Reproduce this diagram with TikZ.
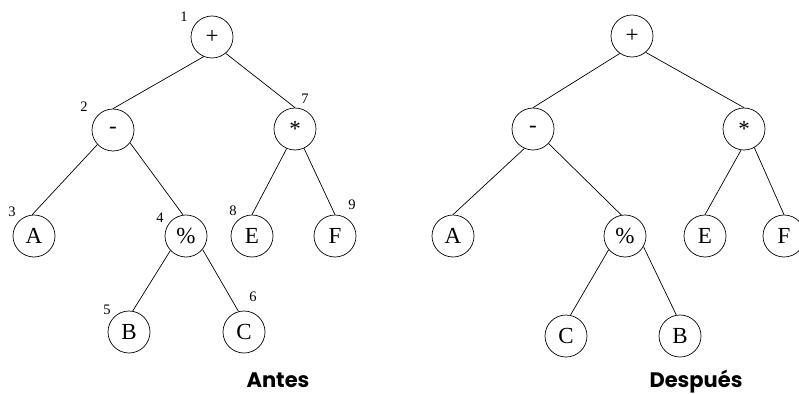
\documentclass[tikz,border=0pt]{standalone}
\usepackage{fontspec}
\setmainfont{Liberation Serif}
\newfontfamily\capfont{Poppins}
\begin{document}
\begin{tikzpicture}[x=1pt,y=-1pt,
  tnode/.style={draw,circle,minimum size=42pt,inner sep=0pt,line width=0.7pt,font=\fontsize{23}{23}\selectfont},
  num/.style={inner sep=0pt,font=\fontsize{14.5}{14.5}\selectfont},
  captext/.style={inner sep=0pt,anchor=base,font=\capfont\bfseries\fontsize{21}{21}\selectfont},
  edge/.style={line width=0.7pt}]
\useasboundingbox (0,0) rectangle (799,393);
% left tree
\node[tnode] (p1) at (212,37) {+};
\node[tnode] (m1) at (113,130) {-};
\node[tnode] (s1) at (295,129) {*};
\node[tnode] (a1) at (34,236) {A};
\node[tnode] (q1) at (186,236) {\%};
\node[tnode] (e1) at (252,236) {E};
\node[tnode] (f1) at (335,236) {F};
\node[tnode] (b1) at (129,332) {B};
\node[tnode] (c1) at (244,332) {C};
\node[num] (n1) at (184,17) {1};
\node[num] (n2) at (84,107) {2};
\node[num] (n7) at (305,99) {7};
\node[num] (n3) at (12,212) {3};
\node[num] (n4) at (160,218) {4};
\node[num] (n8) at (233,211) {8};
\node[num] (n9) at (352,205) {9};
\node[num] (n5) at (107,310) {5};
\node[num] (n6) at (253,297) {6};
\draw[edge] (p1.-113) -- (m1.north);
\draw[edge] (p1.-50) -- (s1.north);
\draw[edge] (m1.-137) -- (a1.95);
\draw[edge] (m1.-37) -- (q1.98);
\draw[edge] (s1.-113) -- (e1.north);
\draw[edge] (s1.-65) -- (f1.north);
\draw[edge] (q1.-137) -- (b1.80);
\draw[edge] (q1.-39) -- (c1.105);
\node[captext] (antes) at (278,387) {Antes};
% right tree
\node[tnode] (p2) at (632,36) {+};
\node[tnode] (m2) at (533,129) {-};
\node[tnode] (s2) at (744,129) {*};
\node[tnode] (a2) at (453,236) {A};
\node[tnode] (q2) at (625,236) {\%};
\node[tnode] (e2) at (705,236) {E};
\node[tnode] (f2) at (784,236) {F};
\node[tnode] (c2) at (566,336) {C};
\node[tnode] (b2) at (680,336) {B};
\draw[edge] (p2.-125) -- (m2.north);
\draw[edge] (p2.-50) -- (s2.north);
\draw[edge] (m2.-114) -- (a2.north);
\draw[edge] (m2.-43) -- (q2.100);
\draw[edge] (s2.-98) -- (e2.north);
\draw[edge] (s2.-61) -- (f2.north);
\draw[edge] (q2.-140) -- (c2.78);
\draw[edge] (q2.-30) -- (b2.100);
\node[captext] (despues) at (696,387) {Después};
\end{tikzpicture}
\end{document}
